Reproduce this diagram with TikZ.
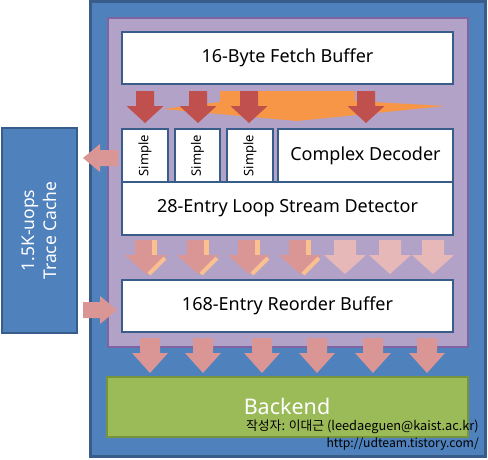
\documentclass[tikz,border=0pt]{standalone}
\usepackage{fontspec}
\setmainfont{Noto Sans}
\newfontfamily\krfont{Noto Sans CJK KR}
\definecolor{bluefill}{HTML}{4F81BD}
\definecolor{blueline}{HTML}{385D8A}
\definecolor{purplefill}{HTML}{B3A2C7}
\definecolor{purpleline}{HTML}{8064A2}
\definecolor{redarrow}{HTML}{C0504D}
\definecolor{orangeshape}{HTML}{F79646}
\definecolor{pinkdark}{HTML}{D99694}
\definecolor{pinklight}{HTML}{E6B9B8}
\definecolor{stripe}{HTML}{FAC090}
\definecolor{greenfill}{HTML}{9BBB59}
\definecolor{greenline}{HTML}{77933C}
\newcommand\blkdown[7]{%
  \fill[#7] ({#1-#5/2},#2) -- ({#1+#5/2},#2) -- ({#1+#5/2},#3) -- ({#1+#6/2},#3)
    -- (#1,#4) -- ({#1-#6/2},#3) -- ({#1-#5/2},#3) -- cycle;}
\newcommand\stripemark[1]{%
  \fill[stripe] ({#1+6},240) rectangle ({#1+11},255);
  \draw[stripe,line width=4pt] ({#1+19},258) -- ({#1+3},274);}
\tikzset{
  whitebox/.style={draw=blueline,line width=2.5pt,fill=white,inner sep=0pt},
  boxtext/.style={font=\fontsize{18}{21}\selectfont,text=black},
}
\begin{document}
\begin{tikzpicture}[x=1pt,y=-1pt]
\useasboundingbox (0,0) rectangle (488,459);
% outer blue
\node[draw=blueline,line width=3pt,fill=bluefill,minimum width=395pt,minimum height=455pt,inner sep=0pt] (outer) at (287.5,228.5) {};
% purple
\node[draw=purpleline,line width=2.5pt,fill=purplefill,minimum width=360pt,minimum height=329pt,inner sep=0pt] (core) at (288,182.5) {};
% fetch buffer
\node[whitebox,minimum width=331pt,minimum height=52pt,boxtext] (fetch) at (287.5,58) {16-Byte Fetch Buffer};
% decoders
\node[whitebox,minimum width=46pt,minimum height=53pt] (s1) at (145,155.5) {};
\node[whitebox,minimum width=45pt,minimum height=53pt] (s2) at (197.5,155.5) {};
\node[whitebox,minimum width=46pt,minimum height=53pt] (s3) at (250,155.5) {};
\node[whitebox,minimum width=175pt,minimum height=53pt,boxtext] (cd) at (365.5,155.5) {Complex Decoder};
\foreach \n in {s1,s2,s3}
  \node[rotate=90,font=\fontsize{13}{15}\selectfont] at (\n.center) {Simple};
% loop stream detector
\node[whitebox,minimum width=331pt,minimum height=53pt,boxtext] (lsd) at (287.5,208.5) {28-Entry Loop Stream Detector};
% reorder buffer
\node[whitebox,minimum width=331pt,minimum height=52pt,boxtext] (rob) at (287.5,306) {168-Entry Reorder Buffer};
% orange wedge
\fill[orangeshape] (163,109) -- (220,102) -- (220,91) -- (355,91) -- (355,101) -- (445,106) -- (297,121) -- cycle;
% red arrows
\foreach \c in {145,198,249,366} {\blkdown{\c}{91}{106}{123}{18}{37}{redarrow}}
% pink arrows row 2
\foreach \c in {146,198,249,300} {\blkdown{\c}{240}{255}{274}{22}{42}{pinkdark}\stripemark{\c}}
\foreach \c in {345,390,433} {\blkdown{\c}{240}{255}{274}{22}{42}{pinklight}}
% trace cache
\node[draw=blueline,line width=2.5pt,fill=bluefill,minimum width=75pt,minimum height=205pt,inner sep=0pt] (tc) at (39.5,230.5) {};
\node[rotate=90,text=white,align=center,font=\fontsize{17.5}{22}\selectfont] (tct) at (tc.center) {1.5K-uops\\Trace Cache};
% arrows to / from trace cache
\fill[pinkdark] (118,150) -- (100,150) -- (100,144) -- (83,158) -- (100,172) -- (100,166) -- (118,166) -- cycle;
\fill[pinkdark] (83,302) -- (100,302) -- (100,296) -- (117,310) -- (100,324) -- (100,318) -- (83,318) -- cycle;
% arrows row 3
\foreach \c in {150,203,262,317,373,427} {\blkdown{\c}{338}{353}{373}{20}{36}{pinkdark}}
% backend
\node[draw=greenline,line width=2pt,fill=greenfill,minimum width=361pt,minimum height=60pt,inner sep=0pt] (be) at (287.5,407) {};
\node[text=white,inner sep=0pt,font=\fontsize{21.5}{24}\selectfont] (bet) at (287,406) {Backend};
% credits
\node[anchor=east,inner sep=0pt,font=\krfont\fontsize{12.8}{14}\selectfont] (cr1) at (479,427) {작성자: 이대근 (leedaeguen@kaist.ac.kr)};
\node[anchor=east,inner sep=0pt,font=\krfont\fontsize{12.2}{14}\selectfont] (cr2) at (479,444) {http://udteam.tistory.com/};
\end{tikzpicture}
\end{document}
